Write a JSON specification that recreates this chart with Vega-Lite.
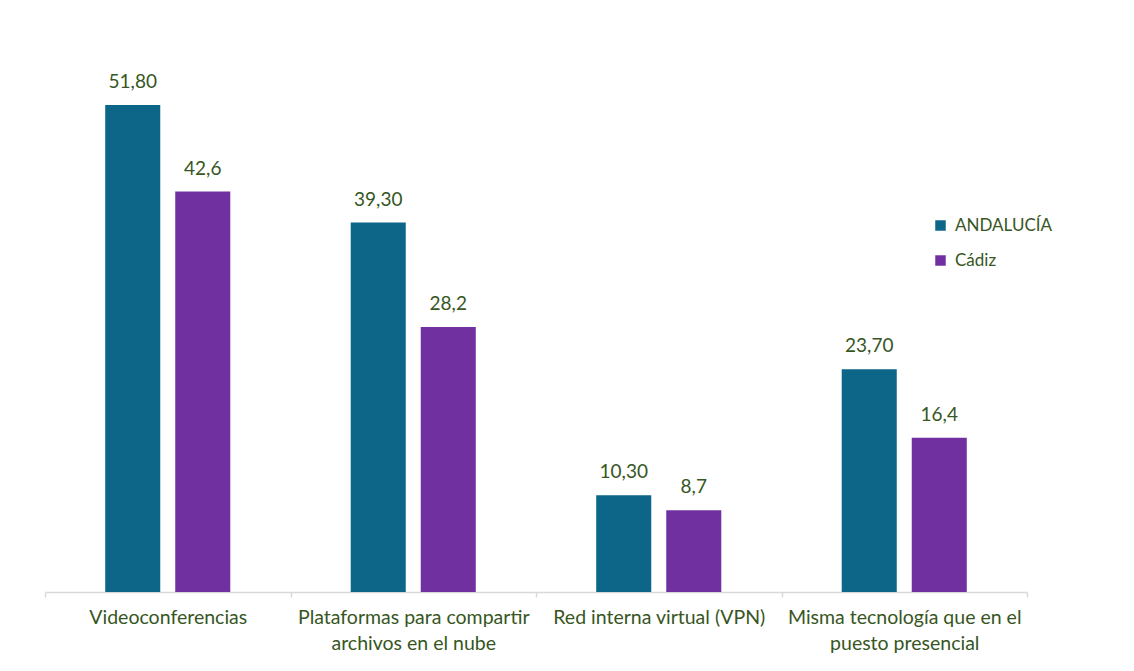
{
  "$schema": "https://vega.github.io/schema/vega-lite/v6.json",
  "width": 982,
  "height": 564,
  "autosize": "none",
  "padding": {"left": 45, "top": 28, "right": 107, "bottom": 79},
  "background": "white",
  "config": {"view": {"stroke": null}, "font": "Lato"},
  "data": {
    "values": [
      {"cat": "Videoconferencias", "serie": "ANDALUCÍA", "valor": 51.8, "etiqueta": "51,80"},
      {"cat": "Videoconferencias", "serie": "Cádiz", "valor": 42.6, "etiqueta": "42,6"},
      {"cat": "Plataformas para compartir archivos en el nube", "serie": "ANDALUCÍA", "valor": 39.3, "etiqueta": "39,30"},
      {"cat": "Plataformas para compartir archivos en el nube", "serie": "Cádiz", "valor": 28.2, "etiqueta": "28,2"},
      {"cat": "Red interna virtual (VPN)", "serie": "ANDALUCÍA", "valor": 10.3, "etiqueta": "10,30"},
      {"cat": "Red interna virtual (VPN)", "serie": "Cádiz", "valor": 8.7, "etiqueta": "8,7"},
      {"cat": "Misma tecnología que en el puesto presencial", "serie": "ANDALUCÍA", "valor": 23.7, "etiqueta": "23,70"},
      {"cat": "Misma tecnología que en el puesto presencial", "serie": "Cádiz", "valor": 16.4, "etiqueta": "16,4"}
    ]
  },
  "encoding": {
    "x": {
      "field": "cat",
      "type": "nominal",
      "sort": null,
      "scale": {"paddingInner": 0, "paddingOuter": 0},
      "axis": {
        "title": null,
        "labelAngle": 0,
        "tickBand": "extent",
        "domainColor": "#d9d9d9",
        "domainWidth": 1.5,
        "tickColor": "#d9d9d9",
        "tickWidth": 1.5,
        "tickSize": 5,
        "labelPadding": 11,
        "labelFont": "Lato",
        "labelFontSize": 19.5,
        "labelColor": "#375623",
        "labelLineHeight": 26,
        "labelBaseline": "top",
        "labelLimit": 300,
        "labelExpr": "datum.label == 'Plataformas para compartir archivos en el nube' ? ['Plataformas para compartir', 'archivos en el nube'] : datum.label == 'Misma tecnología que en el puesto presencial' ? ['Misma tecnología que en el', 'puesto presencial'] : datum.label"
      }
    },
    "xOffset": {
      "field": "serie",
      "type": "nominal",
      "sort": ["ANDALUCÍA", "Cádiz"],
      "scale": {"paddingInner": 0.214, "paddingOuter": 0.86}
    },
    "y": {
      "field": "valor",
      "type": "quantitative",
      "scale": {"domain": [0, 60], "nice": false},
      "axis": null
    }
  },
  "layer": [
    {
      "mark": {"type": "bar"},
      "encoding": {
        "color": {
          "field": "serie",
          "type": "nominal",
          "scale": {"domain": ["ANDALUCÍA", "Cádiz"], "range": ["#0D6687", "#7030A0"]},
          "legend": {
            "title": null,
            "orient": "none",
            "legendX": 887,
            "legendY": 189,
            "symbolType": "square",
            "symbolSize": 110,
            "symbolOpacity": 1,
            "labelFont": "Lato",
            "labelFontSize": 17,
            "labelColor": "#375623",
            "labelOffset": 6,
            "rowPadding": 17
          }
        }
      }
    },
    {
      "mark": {"type": "text", "baseline": "alphabetic", "dy": -17, "font": "Lato", "fontSize": 19, "color": "#375623"},
      "encoding": {"text": {"field": "etiqueta"}}
    }
  ]
}
